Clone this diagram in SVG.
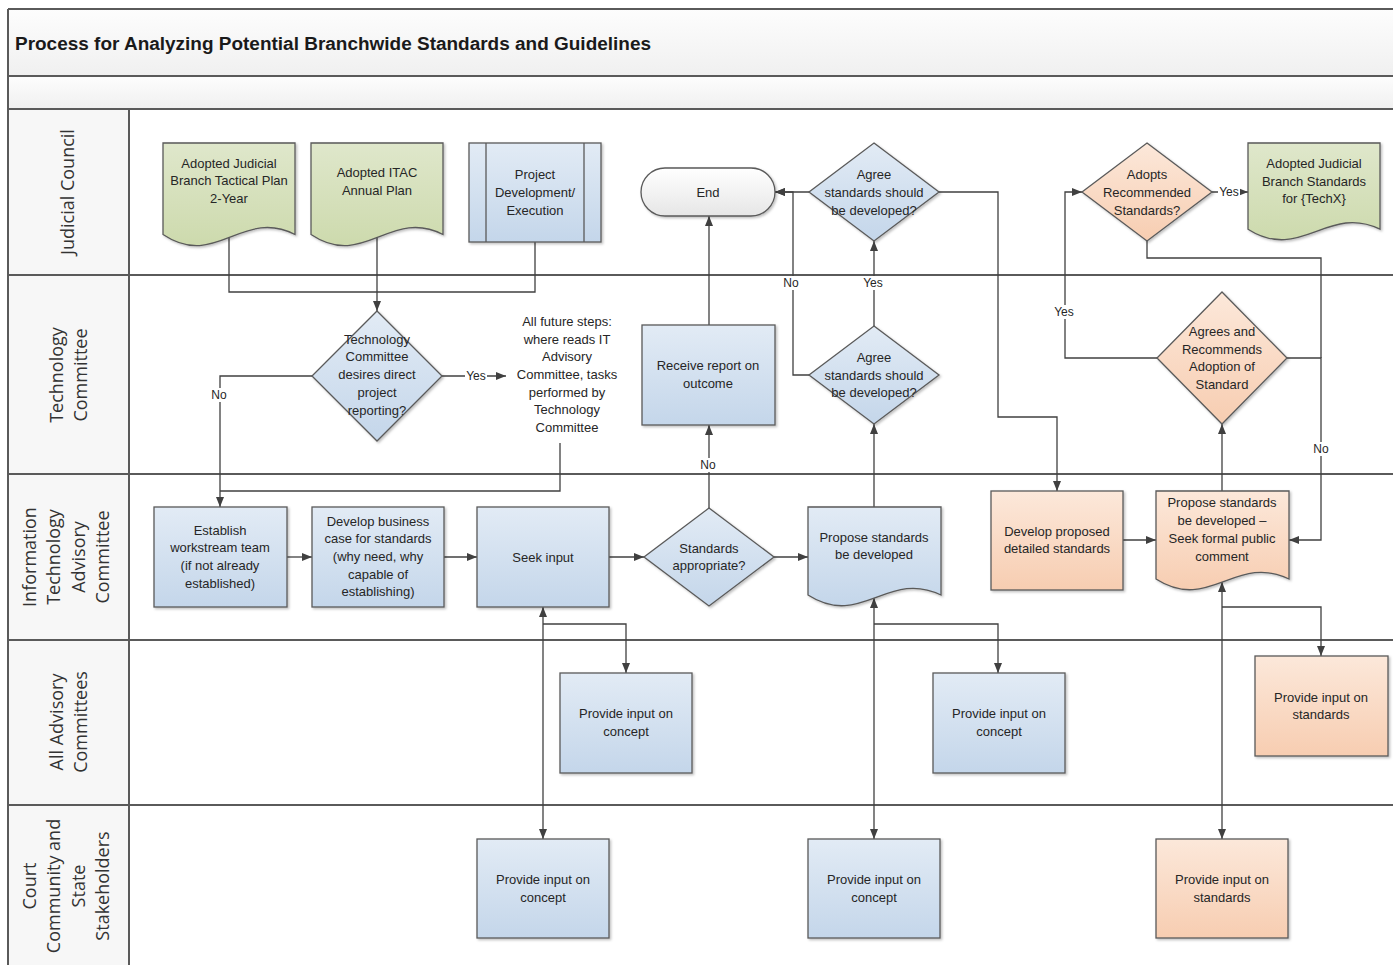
<svg xmlns="http://www.w3.org/2000/svg" width="1393" height="965" viewBox="0 0 1393 965">
<style>
.t{font-family:"Liberation Sans",Arial,sans-serif;font-size:13px;fill:#262626;text-anchor:middle}
.lbl{font-family:"Liberation Sans",Arial,sans-serif;font-size:12px;fill:#262626;text-anchor:middle}
.lane{font-family:"Open Sans","DejaVu Sans",sans-serif;font-size:18px;fill:#333;text-anchor:middle}
.blue{fill:url(#gBlue);stroke:#5a5a5a;stroke-width:1.3}
.green{fill:url(#gGreen);stroke:#5a5a5a;stroke-width:1.3}
.orange{fill:url(#gOrange);stroke:#5a5a5a;stroke-width:1.3}
.grey{fill:url(#gGrey);stroke:#5a5a5a;stroke-width:1.3}
.sh{filter:url(#shadow)}
.c{fill:none;stroke:#404040;stroke-width:1.3}
.a{marker-end:url(#arr)}
.b{marker-start:url(#arr);marker-end:url(#arr)}
.sep{stroke:#5a5a5a;stroke-width:2;fill:none}
</style>
<defs>
<linearGradient id="gBlue" x1="0" y1="0" x2="0" y2="1"><stop offset="0" stop-color="#e2ebf5"/><stop offset="1" stop-color="#c4d6ea"/></linearGradient>
<linearGradient id="gGreen" x1="0" y1="0" x2="0" y2="1"><stop offset="0" stop-color="#dfe7cb"/><stop offset="1" stop-color="#cddaad"/></linearGradient>
<linearGradient id="gOrange" x1="0" y1="0" x2="0" y2="1"><stop offset="0" stop-color="#fce8da"/><stop offset="1" stop-color="#f7cdb1"/></linearGradient>
<linearGradient id="gGrey" x1="0" y1="0" x2="0" y2="1"><stop offset="0" stop-color="#ffffff"/><stop offset="1" stop-color="#e6e6e6"/></linearGradient>
<linearGradient id="gBand" x1="0" y1="0" x2="0" y2="1"><stop offset="0" stop-color="#fdfdfd"/><stop offset="1" stop-color="#f0f0f0"/></linearGradient>
<filter id="shadow" x="-10%" y="-10%" width="125%" height="125%"><feDropShadow dx="1.5" dy="1.5" stdDeviation="1" flood-color="#000" flood-opacity="0.25"/></filter>
<marker id="arr" viewBox="0 0 10 10" refX="10" refY="5" markerWidth="10" markerHeight="10" markerUnits="userSpaceOnUse" orient="auto-start-reverse"><path d="M0,1 L10,5 L0,9 z" fill="#404040"/></marker>
</defs>
<rect x="0" y="0" width="1393" height="965" fill="#ffffff"/>
<g id="frame">
<rect x="8" y="9" width="1390" height="67" fill="url(#gBand)"/>
<rect x="8" y="76" width="1390" height="33" fill="url(#gBand)"/>
<rect x="8" y="109" width="121" height="860" fill="#f7f7f7"/>
<path class="sep" d="M8,9 H1393 M8,76 H1393 M8,109 H1393 M8,275 H1393 M8,474 H1393 M8,640 H1393 M8,805 H1393 M8,9 V965 M129,109 V965"/>
<text x="15" y="50" font-family="Liberation Sans, Arial, sans-serif" font-weight="bold" font-size="18" fill="#1a1a1a" textLength="636" lengthAdjust="spacingAndGlyphs">Process for Analyzing Potential Branchwide Standards and Guidelines</text>
</g>
<g id="lane-labels">
<g transform="translate(68,192) rotate(-90)"><text class="lane" x="0" y="6">Judicial Council</text></g>
<g transform="translate(68,375) rotate(-90)"><text class="lane" x="0" y="-5">Technology</text><text class="lane" x="0" y="19">Committee</text></g>
<g transform="translate(68,557) rotate(-90)"><text class="lane" x="0" y="-32">Information</text><text class="lane" x="0" y="-8">Technology</text><text class="lane" x="0" y="17">Advisory</text><text class="lane" x="0" y="41">Committee</text></g>
<g transform="translate(68,722) rotate(-90)"><text class="lane" x="0" y="-5">All Advisory</text><text class="lane" x="0" y="19">Committees</text></g>
<g transform="translate(68,886) rotate(-90)"><text class="lane" x="0" y="-32">Court</text><text class="lane" x="0" y="-8">Community and</text><text class="lane" x="0" y="17">State</text><text class="lane" x="0" y="41">Stakeholders</text></g>
</g>
<g id="connectors">
<path class="c" d="M229,238 V292 H535 V242"/>
<path class="c a" d="M377,238 V311"/>
<path class="c a" d="M312,376 H220 V507"/>
<path class="c a" d="M442,376 H506"/>
<path class="c" d="M560,443 V491 H220"/>
<path class="c a" d="M287,557 H312"/>
<path class="c a" d="M444,557 H477"/>
<path class="c a" d="M609,557 H644"/>
<path class="c a" d="M774,557 H808"/>
<path class="c a" d="M709,508 V425"/>
<path class="c a" d="M709,325 V216"/>
<path class="c a" d="M874,507 V424"/>
<path class="c a" d="M874,326 V241"/>
<path class="c a" d="M809,375 H793 V192 H775"/>
<path class="c a" d="M809,192 H775"/>
<path class="c a" d="M939,192 H998 V417 H1057 V491"/>
<path class="c a" d="M1123,540 H1156"/>
<path class="c a" d="M1222,491 V424"/>
<path class="c a" d="M1157,358 H1065 V192 H1082"/>
<path class="c a" d="M1287,358 H1321 V540 H1289"/>
<path class="c" d="M1147,241 V258 H1321 V358"/>
<path class="c a" d="M1212,192 H1248"/>
<path class="c b" d="M543,839 V607"/>
<path class="c a" d="M543,624 H626 V673"/>
<path class="c b" d="M874,839 V598"/>
<path class="c a" d="M874,624 H998 V673"/>
<path class="c b" d="M1222,839 V582"/>
<path class="c a" d="M1222,607 H1321 V656"/>
<g id="labels">
<rect x="209" y="388" width="20" height="14" fill="#fff"/><text class="lbl" x="219" y="399">No</text>
<rect x="465" y="369" width="22" height="14" fill="#fff"/><text class="lbl" x="476" y="380">Yes</text>
<rect x="781" y="276" width="20" height="14" fill="#fff"/><text class="lbl" x="791" y="287">No</text>
<rect x="862" y="276" width="22" height="14" fill="#fff"/><text class="lbl" x="873" y="287">Yes</text>
<rect x="698" y="458" width="20" height="14" fill="#fff"/><text class="lbl" x="708" y="469">No</text>
<rect x="1053" y="305" width="22" height="14" fill="#fff"/><text class="lbl" x="1064" y="316">Yes</text>
<rect x="1311" y="442" width="20" height="14" fill="#fff"/><text class="lbl" x="1321" y="453">No</text>
<rect x="1218" y="185" width="22" height="14" fill="#fff"/><text class="lbl" x="1229" y="196">Yes</text>
</g>
</g>
<g id="n-tactical-plan"><path class="green sh" d="M163,143 H295 V234.5 C242.2,207.5 215.8,269.9 163,234.5 Z"/><text class="t" x="229" y="167.5">Adopted Judicial</text><text class="t" x="229" y="185">Branch Tactical Plan</text><text class="t" x="229" y="202.5">2-Year</text></g>
<g id="n-itac-plan"><path class="green sh" d="M311,143 H443 V234.5 C390.2,207.5 363.8,269.9 311,234.5 Z"/><text class="t" x="377" y="176.5">Adopted ITAC</text><text class="t" x="377" y="194.5">Annual Plan</text></g>
<g id="n-project"><rect class="blue sh" x="469" y="143" width="132" height="99"/><path d="M486,143 V242 M584,143 V242" stroke="#5a5a5a" stroke-width="1.3"/><text class="t" x="535" y="178.5">Project</text><text class="t" x="535" y="196.5">Development/</text><text class="t" x="535" y="214.5">Execution</text></g>
<g id="n-end"><rect class="grey sh" x="641" y="168" width="134" height="48" rx="24" ry="24"/><text class="t" x="708" y="196.5">End</text></g>
<g id="n-agree-top"><polygon class="blue sh" points="874,143 939,192 874,241 809,192"/><text class="t" x="874" y="178.5">Agree</text><text class="t" x="874" y="196.5">standards should</text><text class="t" x="874" y="214.5">be developed?</text></g>
<g id="n-adopts"><polygon class="orange sh" points="1147,143 1212,192 1147,241 1082,192"/><text class="t" x="1147" y="178.5">Adopts</text><text class="t" x="1147" y="196.5">Recommended</text><text class="t" x="1147" y="214.5">Standards?</text></g>
<g id="n-adopted-standards"><path class="green sh" d="M1248,143 H1380 V229.2 C1327.2,203.8 1300.8,262.6 1248,229.2 Z"/><text class="t" x="1314" y="167.5">Adopted Judicial</text><text class="t" x="1314" y="185.5">Branch Standards</text><text class="t" x="1314" y="202.5">for {TechX}</text></g>
<g id="n-tc-desires"><polygon class="blue sh" points="377,311 442,376 377,441 312,376"/><text class="t" x="377" y="343.5">Technology</text><text class="t" x="377" y="360.5">Committee</text><text class="t" x="377" y="378.5">desires direct</text><text class="t" x="377" y="396.5">project</text><text class="t" x="377" y="414.5">reporting?</text></g>
<g id="n-future-steps"><text class="t" x="567" y="325.5">All future steps:</text><text class="t" x="567" y="343.5">where reads IT</text><text class="t" x="567" y="360.5">Advisory</text><text class="t" x="567" y="378.5">Committee, tasks</text><text class="t" x="567" y="396.5">performed by</text><text class="t" x="567" y="413.5">Technology</text><text class="t" x="567" y="431.5">Committee</text></g>
<g id="n-receive-report"><rect class="blue sh" x="642" y="325" width="133" height="100"/><text class="t" x="708" y="369.5">Receive report on</text><text class="t" x="708" y="387.5">outcome</text></g>
<g id="n-agree-mid"><polygon class="blue sh" points="874,326 939,375 874,424 809,375"/><text class="t" x="874" y="361.5">Agree</text><text class="t" x="874" y="379.5">standards should</text><text class="t" x="874" y="396.5">be developed?</text></g>
<g id="n-agrees-recommends"><polygon class="orange sh" points="1222,292 1287,358 1222,424 1157,358"/><text class="t" x="1222" y="335.5">Agrees and</text><text class="t" x="1222" y="353.5">Recommends</text><text class="t" x="1222" y="370.5">Adoption of</text><text class="t" x="1222" y="388.5">Standard</text></g>
<g id="n-establish"><rect class="blue sh" x="154" y="507" width="133" height="100"/><text class="t" x="220" y="534.5">Establish</text><text class="t" x="220" y="551.5">workstream team</text><text class="t" x="220" y="569.5">(if not already</text><text class="t" x="220" y="587.5">established)</text></g>
<g id="n-business-case"><rect class="blue sh" x="312" y="507" width="132" height="100"/><text class="t" x="378" y="525.5">Develop business</text><text class="t" x="378" y="542.5">case for standards</text><text class="t" x="378" y="560.5">(why need, why</text><text class="t" x="378" y="578.5">capable of</text><text class="t" x="378" y="595.5">establishing)</text></g>
<g id="n-seek-input"><rect class="blue sh" x="477" y="507" width="132" height="100"/><text class="t" x="543" y="561.5">Seek input</text></g>
<g id="n-standards-appropriate"><polygon class="blue sh" points="709,508 774,557 709,606 644,557"/><text class="t" x="709" y="552.5">Standards</text><text class="t" x="709" y="569.5">appropriate?</text></g>
<g id="n-propose"><path class="blue sh" d="M808,507 H941 V595 C887.8,569 861.2,629 808,595 Z"/><text class="t" x="874" y="541.5">Propose standards</text><text class="t" x="874" y="558.5">be developed</text></g>
<g id="n-develop-proposed"><rect class="orange sh" x="991" y="491" width="132" height="99"/><text class="t" x="1057" y="535.5">Develop proposed</text><text class="t" x="1057" y="552.5">detailed standards</text></g>
<g id="n-seek-comment"><path class="orange sh" d="M1156,491 H1289 V579 C1235.8,553 1209.2,613 1156,579 Z"/><text class="t" x="1222" y="506.5">Propose standards</text><text class="t" x="1222" y="524.5">be developed –</text><text class="t" x="1222" y="542.5">Seek formal public</text><text class="t" x="1222" y="560.5">comment</text></g>
<g id="n-aac-concept-1"><rect class="blue sh" x="560" y="673" width="132" height="100"/><text class="t" x="626" y="717.5">Provide input on</text><text class="t" x="626" y="735.5">concept</text></g>
<g id="n-aac-concept-2"><rect class="blue sh" x="933" y="673" width="132" height="100"/><text class="t" x="999" y="717.5">Provide input on</text><text class="t" x="999" y="735.5">concept</text></g>
<g id="n-aac-standards"><rect class="orange sh" x="1255" y="656" width="133" height="100"/><text class="t" x="1321" y="701.5">Provide input on</text><text class="t" x="1321" y="718.5">standards</text></g>
<g id="n-stake-concept-1"><rect class="blue sh" x="477" y="839" width="132" height="99"/><text class="t" x="543" y="883.5">Provide input on</text><text class="t" x="543" y="901.5">concept</text></g>
<g id="n-stake-concept-2"><rect class="blue sh" x="808" y="839" width="132" height="99"/><text class="t" x="874" y="883.5">Provide input on</text><text class="t" x="874" y="901.5">concept</text></g>
<g id="n-stake-standards"><rect class="orange sh" x="1156" y="839" width="132" height="99"/><text class="t" x="1222" y="883.5">Provide input on</text><text class="t" x="1222" y="901.5">standards</text></g>
</svg>
